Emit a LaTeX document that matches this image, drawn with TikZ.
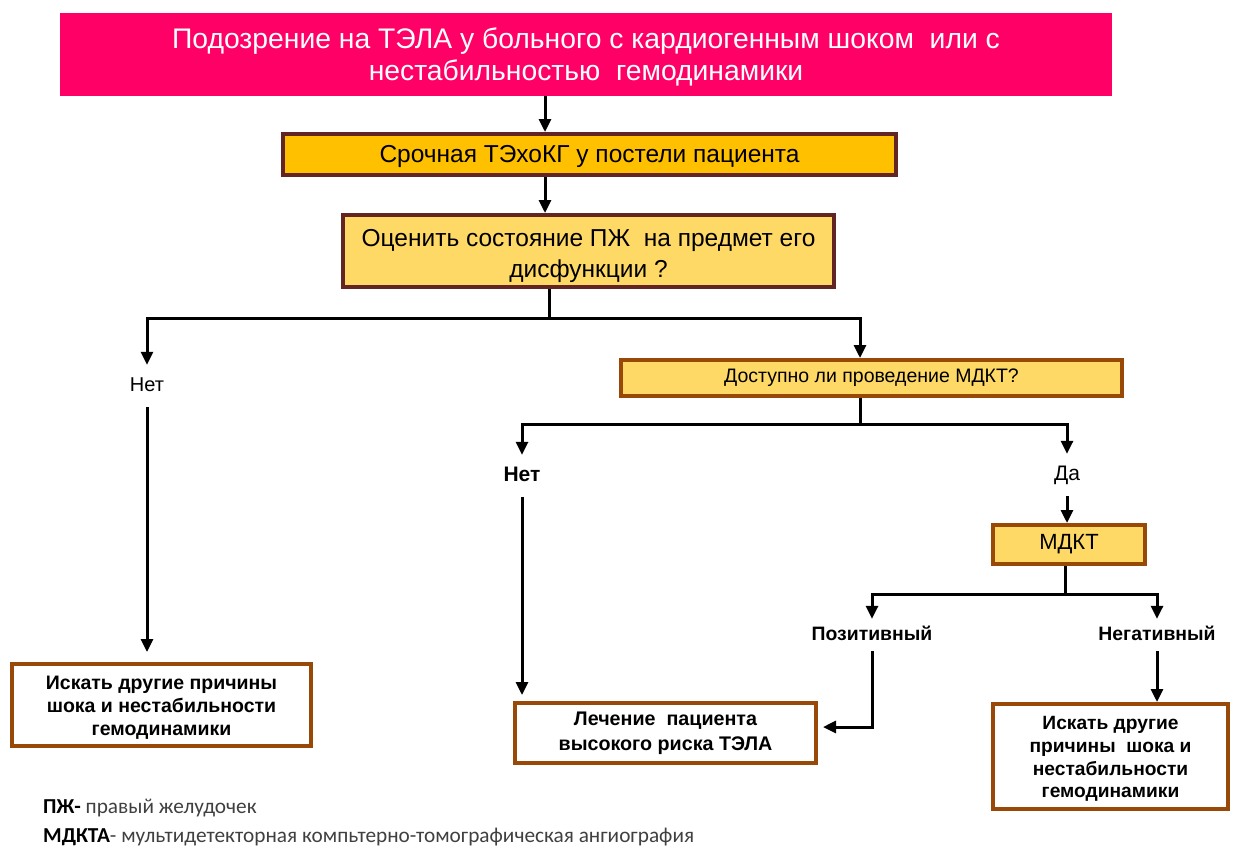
\documentclass[tikz,border=0pt]{standalone}
\usepackage{fontspec}
\setmainfont{Liberation Sans}
\newfontfamily\ar{Liberation Sans}
\newfontfamily\calfont{Carlito}
\usetikzlibrary{arrows.meta}
\newcommand\lowr[2]{\raisebox{-#1}[\height][\depth]{#2}}
\definecolor{pinkc}{HTML}{FF0066}
\definecolor{gold}{HTML}{FFC000}
\definecolor{lightgold}{HTML}{FFD966}
\definecolor{darkbrown}{HTML}{632523}
\definecolor{orbrown}{HTML}{984807}
\definecolor{greytext}{HTML}{404040}
\tikzset{
  box/.style={draw, line width=4pt, rectangle, inner sep=0pt, align=center, font=\ar},
  arr/.style={line width=3pt, -{Triangle[length=13pt,width=12pt]}},
  ln/.style={line width=3pt},
  lbl/.style={inner xsep=0pt, inner ysep=12pt, text height=14pt, text depth=4pt, font=\ar\fontsize{20}{24}\selectfont},
  lblb/.style={inner xsep=0pt, inner ysep=7pt, text height=14pt, text depth=4pt, font=\ar\bfseries\fontsize{19.4}{23}\selectfont},
}
\begin{document}
\begin{tikzpicture}[x=1pt,y=-1pt]
\useasboundingbox (0,0) rectangle (1233,847);
% nodes
\node[fill=pinkc, minimum width=1052pt, minimum height=83pt, inner sep=0pt, align=center, text=white,
  font=\ar\fontsize{28.3}{32}\selectfont] (top) at (586,54.5)
  {\lowr{2.5pt}{Подозрение на ТЭЛА у больного с кардиогенным шоком\ \ или с}\\\lowr{2.5pt}{нестабильностью\ \ гемодинамики}};
\node[box, draw=darkbrown, fill=gold, minimum width=613pt, minimum height=41pt,
  font=\ar\fontsize{24.5}{28}\selectfont] (echo) at (589.5,154.5)
  {\lowr{2pt}{Срочная ТЭхоКГ у постели пациента}};
\node[box, draw=darkbrown, fill=lightgold, minimum width=491pt, minimum height=72pt,
  font=\ar\fontsize{24.5}{31}\selectfont] (rv) at (588.5,251)
  {\lowr{4.5pt}{Оценить состояние ПЖ\ \ на предмет его}\\\lowr{4.5pt}{дисфункции ?}};
\node[lbl] (net1) at (147,386) {Нет};
\node[box, draw=orbrown, fill=lightgold, minimum width=501pt, minimum height=36pt,
  font=\ar\fontsize{19.5}{23}\selectfont] (q) at (871.5,378)
  {Доступно ли проведение МДКТ?};
\node[lbl, font=\ar\bfseries\fontsize{21}{24}\selectfont] (net2) at (522,476) {Нет};
\node[lbl, font=\ar\fontsize{21}{24}\selectfont] (da) at (1067,475) {Да};
\node[box, draw=orbrown, fill=lightgold, minimum width=152pt, minimum height=39pt,
  font=\ar\fontsize{22}{26}\selectfont] (mdkt) at (1069,544.5) {МДКТ};
\node[lblb] (pos) at (872,635) {Позитивный};
\node[lblb] (neg) at (1157,635) {Негативный};
\node[box, draw=orbrown, fill=white, minimum width=299pt, minimum height=82pt,
  font=\ar\bfseries\fontsize{19.5}{23}\selectfont] (other1) at (161.5,705)
  {\lowr{3pt}{Искать другие причины}\\\lowr{3pt}{шока и нестабильности}\\\lowr{3pt}{гемодинамики}};
\node[box, draw=orbrown, fill=white, minimum width=301pt, minimum height=60pt,
  font=\ar\bfseries\fontsize{19.7}{25}\selectfont] (treat) at (665.5,733)
  {Лечение\ \ пациента\\высокого риска ТЭЛА};
\node[box, draw=orbrown, fill=white, minimum width=235pt, minimum height=105pt,
  font=\ar\bfseries\fontsize{19.2}{22.7}\selectfont] (other2) at (1110.5,756.5)
  {\lowr{2.5pt}{Искать другие}\\\lowr{2.5pt}{причины\ \ шока и}\\\lowr{2.5pt}{нестабильности}\\\lowr{2.5pt}{гемодинамики}};
\node[anchor=base west, inner sep=0pt, font=\calfont\fontsize{21.3}{24}\selectfont] (f1) at (43,813)
  {\textbf{ПЖ-} \textcolor{greytext}{правый желудочек}};
\node[anchor=base west, inner sep=0pt, font=\calfont\fontsize{21.3}{24}\selectfont] (f2) at (43,842)
  {\textbf{МДКТА}\textcolor{greytext}{- мультидетекторная компьтерно-томографическая ангиография}};
% helper coordinates
\coordinate (cA) at (545,0);
\coordinate (cB) at (549,0);
\coordinate (j1) at (549,318);
\coordinate (cC) at (860,0);
\coordinate (j2) at (860,424);
\coordinate (cD) at (1065,0);
\coordinate (j3) at (1065,594);
% connectors
\draw[arr] (top.south -| cA) -- (echo.north -| cA);
\draw[arr] (echo.south -| cA) -- (rv.north -| cA);
\draw[ln] (rv.south -| cB) -- (j1);
\draw[arr] (j1) -| (net1.north);
\draw[arr] (j1) -| (q.north -| cC);
\draw[arr, shorten >=10pt] (net1.south) -- (other1.north -| net1);
\draw[ln] (q.south -| cC) -- (j2);
\draw[arr] (j2) -| (net2.north);
\draw[arr] (j2) -| (da.north);
\draw[arr, shorten >=6pt] (net2.south) -- (treat.north -| net2);
\draw[arr] (da.south) -- (mdkt.north -| da);
\draw[ln] (mdkt.south -| cD) -- (j3);
\draw[arr] (j3) -| (pos.north);
\draw[arr] (j3) -| (neg.north);
\draw[arr, shorten >=5pt] (pos.south) |- ([yshift=6pt]treat.east);
\draw[arr] (neg.south) -- (other2.north -| neg);
\end{tikzpicture}
\end{document}
